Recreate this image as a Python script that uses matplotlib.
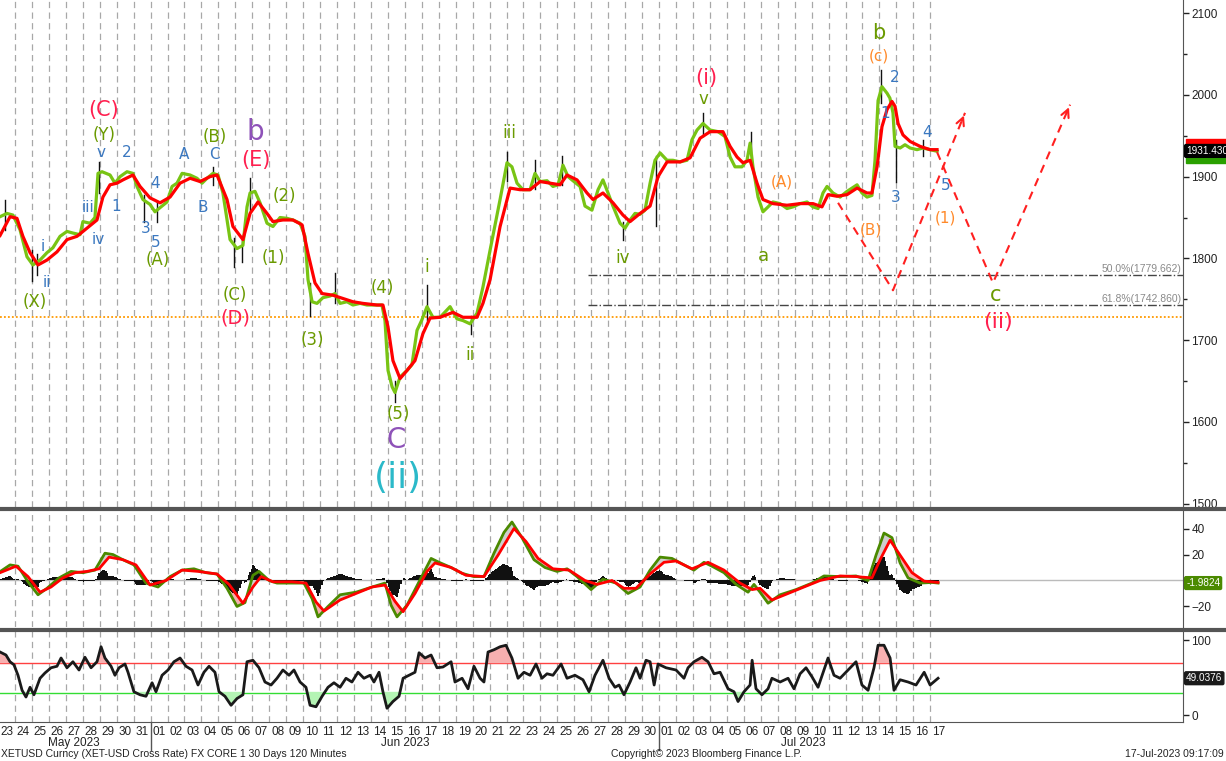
import numpy as np
import matplotlib
matplotlib.use("Agg")
import matplotlib.pyplot as plt
from matplotlib.lines import Line2D
from matplotlib.patches import Rectangle
from matplotlib.transforms import blended_transform_factory
import datetime as dt

plt.rcParams['font.family'] = ['DejaVu Sans']
NARROW = ['Liberation Sans Narrow', 'Liberation Sans', 'DejaVu Sans']

# time axis: days since 23-May-2023 00:00, 2h bars, last bar 17-Jul-2023 09:17
start = dt.date(2023, 5, 23)
n_days = 56

# fast moving average (thick green)
fast = [(0.12,1851),(0.53,1855),(0.88,1853),(1.30,1835),(1.71,1802),(2.06,1792),(2.48,1798),(2.89,1807),(3.24,1813),(3.66,1827),
        (4.07,1833),(4.42,1831),(4.84,1829),(5.01,1845),(5.43,1843),(5.72,1850),(5.90,1904),(6.14,1906),(6.61,1902),(6.90,1892),
        (7.20,1900),(7.61,1906),(7.96,1904),(8.20,1888),(8.55,1872),(8.97,1866),(9.26,1857),(9.56,1862),(9.97,1869),(10.27,1888),
        (10.56,1892),(10.86,1904),(11.33,1902),(11.74,1898),(12.04,1892),(12.33,1898),(12.68,1904),(12.98,1902),(13.27,1880),(13.69,1823),
        (14.10,1812),(14.45,1816),(14.69,1863),(14.87,1880),(15.16,1882),(15.46,1868),(15.87,1843),(16.22,1839),(16.64,1850),(17.05,1849),
        (17.40,1847),(17.82,1843),(18.11,1827),(18.29,1774),(18.53,1747),(18.82,1745),(19.17,1752),(19.59,1754),(19.88,1757),(20.18,1745),
        (20.59,1747),(20.94,1743),(21.36,1745),(21.77,1743),(22.12,1743),(22.65,1743),(22.83,1724),(23.01,1663),(23.25,1643),(23.42,1636),
        (23.72,1655),(24.13,1663),(24.42,1670),(24.72,1712),(25.01,1725),(25.31,1741),(25.66,1728),(26.08,1728),(26.67,1741),(27.08,1726),
        (27.43,1724),(27.85,1720),(28.26,1733),(28.61,1765),(29.03,1810),(29.62,1872),(30.03,1917),(30.32,1912),(30.62,1892),(30.97,1884),
        (31.39,1884),(31.68,1904),(31.98,1894),(32.39,1895),(32.74,1888),(33.04,1890),(33.33,1914),(33.63,1900),(33.92,1895),(34.34,1888),
        (34.63,1864),(35.04,1859),(35.40,1884),(35.69,1896),(35.99,1880),(36.28,1864),(36.70,1843),(36.99,1837),(37.29,1847),(37.58,1855),
        (37.88,1854),(38.17,1859),(38.47,1892),(38.76,1920),(39.06,1929),(39.47,1920),(39.82,1920),(40.24,1918),(40.65,1920),(40.94,1945),
        (41.24,1957),(41.59,1965),(42.01,1957),(42.48,1955),(42.89,1949),(43.19,1924),(43.48,1912),(43.89,1912),(44.19,1920),(44.37,1941),
        (44.54,1912),(44.84,1875),(45.13,1857),(45.43,1863),(45.72,1869),(46.14,1867),(46.55,1861),(46.90,1863),(47.32,1867),(47.73,1869),
        (48.08,1863),(48.38,1861),(48.67,1880),(48.91,1888),(49.26,1880),(49.68,1875),(50.09,1882),(50.38,1886),(50.68,1890),(50.97,1880),
        (51.27,1875),(51.56,1877),(51.74,1920),(51.92,1993),(52.15,2010),(52.45,2002),(52.62,1996),(52.80,1978),(52.92,1937),(53.22,1935),
        (53.51,1939),(53.81,1935),(54.22,1933),(54.57,1935),(54.99,1933),(55.40,1931)]

# slow moving average (thick red)
slow = [(0.12,1828),(0.71,1851),(1.12,1849),(1.47,1827),(1.89,1807),(2.36,1792),(2.89,1798),(3.48,1808),(4.07,1823),(4.66,1827),
        (5.25,1837),(5.84,1847),(6.19,1875),(6.61,1890),(7.02,1892),(7.37,1896),(7.96,1902),(8.38,1888),(8.97,1874),(9.56,1868),
        (10.15,1875),(10.74,1892),(11.33,1898),(11.92,1894),(12.51,1900),(12.92,1902),(13.51,1872),(13.86,1839),(14.45,1823),(14.87,1855),
        (15.34,1869),(15.87,1855),(16.22,1845),(16.81,1847),(17.40,1847),(17.94,1841),(18.29,1806),(18.70,1770),(19.12,1757),(19.76,1755),
        (20.35,1751),(20.94,1747),(21.53,1745),(22.36,1743),(22.71,1743),(23.01,1716),(23.30,1675),(23.72,1653),(24.13,1663),(24.60,1675),
        (25.07,1708),(25.49,1727),(26.08,1728),(26.84,1734),(27.43,1728),(28.26,1728),(28.61,1745),(29.03,1774),(29.62,1839),(30.21,1886),
        (30.80,1884),(31.39,1884),(31.98,1894),(32.57,1892),(33.16,1890),(33.57,1902),(34.16,1896),(34.75,1880),(35.10,1872),(35.69,1880),
        (36.28,1868),(36.87,1853),(37.29,1845),(37.88,1855),(38.47,1864),(38.94,1900),(39.47,1918),(40.24,1918),(40.83,1923),(41.42,1947),
        (42.01,1955),(42.48,1955),(42.77,1955),(43.19,1937),(43.60,1924),(43.95,1917),(44.37,1920),(44.78,1892),(45.13,1872),(45.72,1867),
        (46.55,1865),(47.32,1867),(48.08,1867),(48.61,1863),(48.97,1878),(49.50,1876),(50.09,1878),(50.68,1886),(51.27,1880),(51.56,1880),
        (51.86,1912),(52.15,1961),(52.45,1982),(52.74,1992),(52.92,1986),(53.10,1965),(53.39,1951),(53.81,1943),(54.40,1937),(54.99,1933),
        (55.40,1933)]

# notable bar wicks (time, low, high)
wicks = [(0.40,1835,1872),(2.00,1772,1810),(2.30,1780,1805),(5.95,1880,1918),(8.60,1845,1878),(9.40,1845,1870),(12.70,1890,1912),
         (13.90,1790,1825),(14.40,1795,1822),(14.85,1858,1898),(18.40,1730,1770),(19.90,1745,1782),(23.40,1625,1650),(25.30,1725,1768),
         (27.90,1708,1730),(30.00,1895,1930),(31.70,1885,1920),(33.30,1890,1925),(36.90,1822,1845),(38.80,1840,1925),(41.60,1950,1978),
         (44.40,1930,1955),(52.10,1990,2030),(52.95,1893,1945),(54.60,1925,1945)]

last_price = 1931.430
upper_band_last = 1938
lower_band_last = 1925
fib_levels = [(50.0, 1779.662), (61.8, 1742.860)]
fib_start = 34.8
support = 1728

# projected paths (red dashed)
proj1 = [(49.56,1868),(52.80,1761),(57.05,1978)]
proj2 = [(55.40,1930),(58.70,1770),(63.25,1988)]

# MACD lines
macd = [(0.12,6.8),(0.71,12),(1.18,11),(1.77,-1),(2.36,-11),(2.89,-6),(3.60,2),(4.31,7),(5.01,6),(5.72,8),(6.31,21),(6.78,20),
        (7.37,16),(8.02,12),(8.73,-2),(9.44,-5),(10.15,3),(10.86,8),(11.56,9),(12.27,6),(12.92,5),(13.51,-6),(14.10,-20),(14.57,-17),
        (15.04,4),(15.40,7),(15.99,0),(16.46,-2),(17.17,-2),(18.05,-2),(18.53,-14),(18.88,-28),(19.47,-20),(20.18,-11),(21.12,-9),
        (22.07,-5),(22.83,-2),(23.19,-19),(23.54,-28),(24.13,-19),(24.84,-1),(25.55,17),(26.02,14),(26.73,10),(27.38,5.5),(28.08,3),
        (28.67,3),(29.26,21),(29.85,37),(30.32,45),(30.91,33),(31.62,16),(32.27,10),(32.98,7),(33.57,9),(34.16,3),(34.99,-7),(35.69,1),
        (36.46,-2),(37.17,-10),(37.88,-5),(38.47,8),(39.06,18),(39.76,17),(40.47,12),(41.06,8),(41.65,14),(42.12,11),(42.83,6),(43.54,-3),
        (44.25,-9),(44.60,-3),(44.96,-9),(45.43,-17.5),(46.14,-11),(47.08,-7),(48.02,-2),(48.73,3.5),(49.68,3),(50.62,3.5),(51.33,0),
        (51.80,19.5),(52.27,36.5),(52.74,33),(53.22,13.5),(53.69,2),(54.40,-2),(55.11,-1.5),(55.46,-1.98)]
signal = [(0.12,6),(1.06,11),(1.77,3),(2.48,-9),(3.13,-5),(3.83,2),(4.54,6),(5.25,7),(5.96,9),(6.55,18),(7.37,16),(8.14,12),
          (8.97,-3.5),(9.91,0),(10.86,8),(11.80,7),(12.92,5),(13.63,-3),(14.45,-17.5),(15.04,-5),(15.52,3),(16.22,-1),(17.34,-1),
          (18.17,-2),(18.76,-16.5),(19.23,-23.5),(20.18,-15),(21.12,-10),(22.07,-5),(22.83,-3.5),(23.42,-16),(23.90,-24),(24.60,-10),
          (25.31,7),(25.78,13.5),(26.73,10),(27.61,4),(28.67,3),(29.50,19.5),(30.44,40),(31.15,30),(31.86,17),(32.74,9),(33.69,8),
          (34.63,0),(35.34,-3),(36.22,0),(36.93,-6),(37.64,-6),(38.47,5),(39.29,14),(40.00,15),(40.94,9),(41.89,14),(42.83,8),
          (43.78,-2),(44.49,-7),(44.96,-6),(45.66,-15),(46.61,-10),(47.55,-5),(48.50,0),(49.68,3.5),(50.62,3),(51.56,2),(52.04,16),
          (52.63,31),(53.22,19.5),(53.92,6),(54.64,-0.5),(55.46,-1.5)]
macd_last = -1.9824

# RSI
rsi = [(0.12,84),(0.47,80),(0.71,71),(0.94,67),(1.18,53),(1.42,33),(1.65,24),(1.89,37),(2.12,27),(2.48,49),(2.77,56),(3.13,63),
       (3.48,65),(3.72,76),(4.07,63),(4.42,71),(4.78,60),(5.13,77),(5.49,63),(5.84,71),(6.08,91),(6.31,76),(6.67,65),(6.90,53),
       (7.14,63),(7.49,68),(7.67,57),(8.02,31),(8.38,27),(8.73,25),(9.09,43),(9.32,31),(9.68,53),(10.03,60),(10.38,71),(10.74,76),
       (11.09,65),(11.45,60),(11.80,40),(12.15,57),(12.45,65),(12.80,57),(13.04,31),(13.39,25),(13.75,13),(14.10,22),(14.45,27),
       (14.69,71),(15.04,73),(15.40,63),(15.75,44),(16.11,40),(16.46,49),(16.81,60),(17.17,53),(17.46,60),(17.82,44),(18.17,37),
       (18.41,13),(18.76,11),(19.12,25),(19.47,37),(19.82,43),(20.18,37),(20.53,49),(20.88,44),(21.24,57),(21.59,49),(21.95,53),
       (22.18,44),(22.48,57),(22.71,31),(22.95,9),(23.30,18),(23.66,25),(23.90,49),(24.25,53),(24.60,57),(24.84,83),(25.19,76),
       (25.55,80),(25.90,63),(26.25,64),(26.73,71),(26.96,44),(27.38,49),(27.73,35),(28.08,65),(28.44,49),(28.67,44),(28.91,84),
       (29.26,87),(29.62,91),(29.97,93),(30.32,76),(30.68,49),(31.03,57),(31.39,53),(31.74,68),(32.09,49),(32.39,55),(32.74,53),
       (33.22,68),(33.57,49),(34.04,53),(34.51,47),(34.87,31),(35.22,53),(35.69,73),(36.05,49),(36.40,37),(36.64,40),(36.93,27),
       (37.29,44),(37.64,63),(37.88,49),(38.23,73),(38.47,71),(38.71,40),(38.94,68),(39.41,63),(40.00,60),(40.47,49),(40.71,63),
       (41.06,71),(41.53,77),(41.89,71),(42.24,55),(42.60,57),(43.07,35),(43.42,31),(43.66,18),(44.01,31),(44.37,40),(44.49,73),
       (44.72,35),(45.07,27),(45.43,35),(45.66,49),(46.14,44),(46.61,49),(46.96,35),(47.32,55),(47.67,63),(48.02,51),(48.38,37),
       (48.73,60),(48.97,76),(49.32,53),(49.68,49),(50.15,60),(50.62,71),(50.97,40),(51.33,33),(51.68,63),(51.92,93),(52.27,93),
       (52.63,76),(52.86,33),(53.22,47),(53.69,44),(54.16,40),(54.64,57),(54.99,40),(55.46,49)]
rsi_last = 49.0376

OLIVE = '#6a9a00'
BLUE = '#3b78c0'
RED = '#ff1f4f'
PURPLE = '#8e52b8'
CYAN = '#2bb9c9'
ORANGE = '#ff8a2a'

# wave labels: text, time, price, colour, size
labels = [("(X)", 2.18, 1747, OLIVE, 12), ("ii", 2.89, 1770, BLUE, 11), ("i", 2.65, 1814, BLUE, 11),
          ("iii", 5.31, 1862, BLUE, 11), ("iv", 5.90, 1823, BLUE, 11), ("v", 6.08, 1930, BLUE, 11),
          ("(Y)", 6.25, 1951, OLIVE, 12), ("(C)", 6.25, 1982, RED, 15),
          ("1", 6.96, 1863, BLUE, 11), ("2", 7.61, 1930, BLUE, 11), ("3", 8.73, 1836, BLUE, 11),
          ("5", 9.32, 1820, BLUE, 11), ("4", 9.26, 1891, BLUE, 11), ("(A)", 9.44, 1798, OLIVE, 12),
          ("A", 10.97, 1927, BLUE, 11), ("B", 12.09, 1862, BLUE, 11), ("C", 12.74, 1927, BLUE, 11),
          ("(B)", 12.80, 1949, OLIVE, 12), ("b", 15.16, 1955, PURPLE, 20), ("(E)", 15.22, 1920, RED, 15),
          ("(2)", 16.87, 1876, OLIVE, 12), ("(1)", 16.22, 1801, OLIVE, 12), ("(C)", 13.98, 1755, OLIVE, 12),
          ("(D)", 13.98, 1727, RED, 14), ("(3)", 18.53, 1700, OLIVE, 12), ("(4)", 22.65, 1764, OLIVE, 12),
          ("(5)", 23.60, 1610, OLIVE, 12), ("C", 23.48, 1578, PURPLE, 20), ("(ii)", 23.60, 1531, CYAN, 26),
          ("i", 25.31, 1790, OLIVE, 12), ("ii", 27.85, 1682, OLIVE, 12), ("iii", 30.15, 1953, OLIVE, 12),
          ("iv", 36.87, 1801, OLIVE, 12), ("v", 41.59, 1995, OLIVE, 12), ("(i)", 41.77, 2021, RED, 15),
          ("a", 45.13, 1803, OLIVE, 13), ("(A)", 46.25, 1894, ORANGE, 11), ("b", 51.98, 2076, OLIVE, 15),
          ("(c)", 51.98, 2047, ORANGE, 11), ("2", 52.92, 2021, BLUE, 11), ("1", 52.33, 1977, BLUE, 11),
          ("4", 54.81, 1954, BLUE, 11), ("3", 52.98, 1874, BLUE, 11), ("5", 55.93, 1889, BLUE, 11),
          ("(B)", 51.50, 1835, ORANGE, 11), ("(1)", 55.87, 1849, ORANGE, 11), ("c", 58.88, 1755, OLIVE, 15),
          ("(ii)", 59.00, 1722, RED, 16)]

W, H = 1226, 761


def rect(x0, y0, x1, y1):
    return [x0 / W, 1 - y1 / H, (x1 - x0) / W, (y1 - y0) / H]


def xy(pairs):
    a = np.array(pairs, dtype=float)
    return a[:, 0], a[:, 1]


def tag(axis, val, text, fc, tc='white'):
    axis.annotate(text, xy=(1.0, val), xycoords=('axes fraction', 'data'),
                  xytext=(2.2, 0), textcoords='offset points', ha='left', va='center',
                  fontsize=7.2, family=NARROW, color=tc, annotation_clip=False, zorder=10,
                  bbox=dict(boxstyle='round,pad=0.14', fc=fc, ec=fc))


fig = plt.figure(figsize=(W / 100, H / 100), dpi=100)
ax = fig.add_axes(rect(0, 0, 1183, 507))
axm = fig.add_axes(rect(0, 511, 1183, 627), sharex=ax)
axr = fig.add_axes(rect(0, 631, 1183, 722), sharex=ax)

for a in (ax, axm, axr):
    for s in ('left', 'top', 'bottom'):
        a.spines[s].set_visible(False)
    a.spines['right'].set_color('#555555')
    a.yaxis.tick_right()
    a.tick_params(axis='y', which='both', direction='out', length=4, width=1,
                  labelsize=8.5, pad=2, colors='#222222')
    a.tick_params(axis='x', bottom=False, labelbottom=False)
    for lab in a.get_yticklabels():
        lab.set_family(NARROW)
    for d in range(1, n_days):
        a.axvline(d, color='#a8a8a8', lw=0.9, ls=(0, (5, 3.5)), zorder=0)
axr.spines['bottom'].set_visible(True)
axr.spines['bottom'].set_color('#555555')

ax.set_xlim(0.118, 69.91)

# ---- price panel
ax.set_ylim(1496, 2116)
ax.set_yticks(np.arange(1500, 2101, 100))
ax.set_yticks(np.arange(1550, 2100, 100), minor=True)
ax.tick_params(axis='y', which='minor', length=3)

ax.axhline(support, color='#ff9a00', lw=1.3, ls=(0, (1, 1.2)), zorder=1)
for pct, lvl in fib_levels:
    ax.plot([fib_start, 69.91], [lvl, lvl], color='#444444', lw=1, ls='-.', zorder=1)
    ax.text(69.8, lvl + 1.5, f"{pct:.1f}%({lvl:.3f})", ha='right', va='bottom',
            fontsize=7.5, family=NARROW, color='#8a8a8a')

for t, lo, hi in wicks:
    ax.plot([t, t], [lo, hi], color='#111111', lw=1, zorder=2)

ft, fp = xy(fast)
st, sp = xy(slow)
ax.plot(ft, fp, color='#111111', lw=0.8, zorder=2)
ax.plot(ft, fp, color='#78c414', lw=2.3, zorder=3)
ax.plot(st, sp, color='#ff0000', lw=2.3, zorder=4)

for path in (proj1, proj2):
    pt, pp = xy(path)
    ax.plot(pt, pp, color='#ff2020', lw=1.5, ls=(0, (4, 3)), zorder=5)
    ax.annotate('', xy=(pt[-1], pp[-1]), xytext=(pt[-1] - 0.06 * (pt[-1] - pt[-2]), pp[-1] - 0.06 * (pp[-1] - pp[-2])),
                arrowprops=dict(arrowstyle='->', color='#ff2020', lw=1.5, mutation_scale=14), zorder=5)

for txt, t, p, c, fs in labels:
    ax.text(t, p, txt, color=c, fontsize=fs, ha='center', va='center', zorder=6)

# stacked value tags on the price axis (upper band red, lower band green, last price black)
tr = blended_transform_factory(ax.transAxes, ax.transData)
for val, col in [(upper_band_last, '#ff0000'), (lower_band_last, '#2aa000')]:
    ax.add_patch(Rectangle((1.0025, val - 8), 0.0335, 16, transform=tr, fc=col, ec=col,
                           clip_on=False, zorder=9))
tag(ax, last_price, f"{last_price:.3f}", '#000000')

# ---- MACD panel
axm.set_ylim(-35.8, 53.5)
axm.set_yticks([-20, 20, 40])
axm.axhline(0, color='#bbbbbb', lw=1, zorder=1)
mt, mv = xy(macd)
gt, gv = xy(signal)
grid = np.linspace(mt[0], mt[-1], 1600)
g = np.interp(grid, mt, mv)
r = np.interp(grid, gt, gv)
axm.fill_between(grid, g, r, where=g >= r, color='#cfcfcf', interpolate=True, zorder=2)
axm.fill_between(grid, g, r, where=g < r, color='#f4b0b0', interpolate=True, zorder=2)
bars = np.arange(mt[0], mt[-1], 1 / 12)
hist = np.interp(bars, mt, mv) - np.interp(bars, gt, gv)
axm.bar(bars, hist * 1.3, width=1 / 12, color='#111111', zorder=2)
axm.plot(mt, mv, color='#4b8a00', lw=2, zorder=3)
axm.plot(gt, gv, color='#ff0000', lw=2, zorder=4)
tag(axm, macd_last, f"{macd_last:.4f}", '#4b8a00')

# ---- RSI panel
axr.set_ylim(-9.3, 112)
axr.set_yticks([0, 100])
axr.axhline(70, color='#ff4040', lw=1, zorder=1)
axr.axhline(30, color='#33dd33', lw=1, zorder=1)
rt, rv = xy(rsi)
axr.fill_between(rt, rv, 70, where=rv > 70, color='#f7b0b0', interpolate=True, zorder=2)
axr.fill_between(rt, rv, 30, where=rv < 30, color='#b4f4b4', interpolate=True, zorder=2)
axr.plot(rt, rv, color='#1a1a1a', lw=2, zorder=3)
tag(axr, rsi_last, f"{rsi_last:.4f}", '#1a1a1a')

for a in (ax, axm, axr):
    for lab in a.get_yticklabels():
        lab.set_family(NARROW)

# ---- date axis
days = [start + dt.timedelta(days=i) for i in range(n_days)]
axr.set_xticks([i + 0.5 for i in range(n_days)])
axr.set_xticklabels([d.strftime('%d') for d in days], fontsize=8.5, family=NARROW)
axr.tick_params(axis='x', bottom=True, labelbottom=True, length=0, pad=3, colors='#222222')

tf = blended_transform_factory(axr.transData, fig.transFigure)
for name, centre in [("May 2023", 4.5), ("Jun 2023", 24.0), ("Jul 2023", 47.5)]:
    fig.text(centre, 1 - 743 / H, name, transform=tf, ha='center', va='center', fontsize=8.5,
             family=NARROW, color='#222222')
for d, day in enumerate(days):
    if day.day == 1:
        fig.add_artist(Line2D([d, d], [1 - 722 / H, 1 - 750 / H], transform=tf, color='#555555', lw=1))

for yy in (508.5, 629.5):
    fig.add_artist(Line2D([0, 1], [1 - yy / H, 1 - yy / H], color='#555555', lw=3))

fig.text(0.001, 1 - 754 / H, "XETUSD Curncy (XET-USD Cross Rate) FX CORE 1 30 Days 120 Minutes",
         fontsize=7.5, family=NARROW, va='center', ha='left', color='#222222')
fig.text(706 / W, 1 - 754 / H, "Copyright\u00a9 2023 Bloomberg Finance L.P.", fontsize=7.5,
         family=NARROW, va='center', ha='center', color='#222222')
fig.text(0.998, 1 - 754 / H, "17-Jul-2023 09:17:09", fontsize=7.5, family=NARROW,
         va='center', ha='right', color='#222222')

fig.savefig("out.png", dpi=100, facecolor='white')
